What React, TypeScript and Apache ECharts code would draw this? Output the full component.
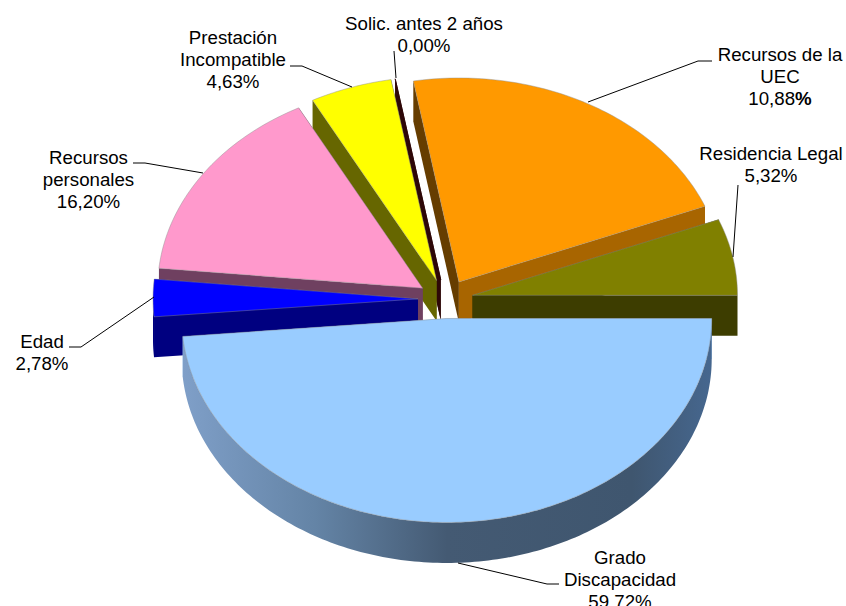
import React, { useEffect, useRef } from "react";
import * as echarts from "echarts";

// Chart order, counter-clockwise from 3 o'clock
const categories = ["Residencia Legal", "Recursos de la UEC", "Solic. antes 2 años", "Prestación Incompatible", "Recursos personales", "Edad", "Grado Discapacidad"];
const printedPercents = ["5,32%", "10,88%", "0,00%", "4,63%", "16,20%", "2,78%", "59,72%"];
// Shares of the circle as the slices are actually drawn in the picture
const drawnShares = [6.05, 21.7, 0, 5.0, 15.7, 2.95, 48.6];

// Painter's order (back to front)
const drawOrder = [2, 1, 3, 4, 0, 5, 6];

const topColors = ["#808000", "#FF9900", "#2e0808", "#FFFF00", "#FF99CC", "#0000FF", "#99CCFF"];
const startWallColors = ["#3d3d00", "#a86500", "#2e0808", "#666600", "#6f4060", "#000080", "#99CCFF"];
const endWallColors = ["#3d3d00", "#663d00", "#2e0808", "#666600", "#6f4060", "#000080", "#99CCFF"];

const CX = 445.5, CY = 299, RX = 265, RY = 204, DEPTH = 40.5, EX = 27.5, EY = 19.5;
const RAD = Math.PI / 180;

const edges: number[] = [0];
drawnShares.forEach((s, i) => edges.push(edges[i] + (s / 100) * 360));

function renderSlice(_params: any, api: any) {
  const idx = api.value(1) as number;
  const share = api.value(0) as number;
  const a0 = edges[idx];
  const a1 = a0 + (share / 100) * 360;
  const mid = ((a0 + a1) / 2) * RAD;
  const ax = CX + EX * Math.cos(mid);
  const ay = CY - EY * Math.sin(mid);
  const pt = (deg: number, dy = 0) => [ax + RX * Math.cos(deg * RAD), ay - RY * Math.sin(deg * RAD) + dy];
  const arc = (from: number, to: number, dy = 0) => {
    const n = Math.max(1, Math.ceil(Math.abs(to - from)));
    const out: number[][] = [];
    for (let i = 0; i <= n; i++) out.push(pt(from + ((to - from) * i) / n, dy));
    return out;
  };
  const children: any[] = [];
  const wall = (deg: number, fill: string) => {
    children.push({
      type: "polygon",
      shape: { points: [[ax, ay], pt(deg), pt(deg, DEPTH), [ax, ay + DEPTH]] },
      style: { fill },
    });
  };
  wall(a1, endWallColors[idx]);
  wall(a0, startWallColors[idx]);
  const rimFrom = Math.max(a0, 180);
  if (a1 > 180) {
    const fill =
      idx === 6
        ? new echarts.graphic.LinearGradient(0, 0, 1, 0, [
            { offset: 0, color: "#7f9fc8" },
            { offset: 0.25, color: "#6484a6" },
            { offset: 0.5, color: "#445a73" },
            { offset: 0.85, color: "#3f566f" },
            { offset: 1, color: "#46678f" },
          ])
        : startWallColors[idx];
    children.push({
      type: "polygon",
      shape: { points: [...arc(rimFrom, a1), ...arc(a1, rimFrom, DEPTH)] },
      style: { fill },
    });
  }
  children.push({
    type: "polygon",
    shape: { points: [[ax, ay], ...arc(a0, a1)] },
    style: { fill: topColors[idx], stroke: share > 0 ? "rgba(140,140,140,0.55)" : topColors[idx], lineWidth: 0.8 },
  });
  return { type: "group", children };
}

const FONT = '18.7px "Liberation Sans", Arial, sans-serif';

const labelLayout = [
  { i: 0, x: 771, y: 164, lines: ["Residencia Legal"] },
  { i: 1, x: 780, y: 76.5, lines: ["Recursos de la", "UEC"] },
  { i: 2, x: 424, y: 34, lines: ["Solic. antes 2 años"] },
  { i: 3, x: 233, y: 59.5, lines: ["Prestación", "Incompatible"] },
  { i: 4, x: 88.5, y: 179, lines: ["Recursos", "personales"] },
  { i: 5, x: 42, y: 352, lines: ["Edad"] },
  { i: 6, x: 620, y: 579, lines: ["Grado", "Discapacidad"] },
];

const leaders: number[][][] = [
  [[738, 185], [733, 257]],
  [[588, 102], [698, 61], [712, 61]],
  [[394, 51], [396, 78]],
  [[290, 66], [302, 66], [352, 87]],
  [[133, 163], [145, 163], [203, 173]],
  [[154, 297], [81, 347], [69, 347]],
  [[458, 563], [547, 584], [559, 584]],
];

function labelText(i: number, lines: string[]) {
  const pct = printedPercents[i];
  const last = i === 1 ? pct.replace("%", "{b|%}") : pct;
  return [...lines, last].join("\n");
}

export default function App() {
  const ref = useRef<HTMLDivElement>(null);
  useEffect(() => {
    document.body.style.margin = "0";
    const chart = echarts.init(ref.current!, null, { renderer: "svg" });
    chart.setOption({
      animation: false,
      backgroundColor: "#ffffff",
      series: [
        {
          type: "custom",
          coordinateSystem: "none",
          renderItem: renderSlice,
          silent: true,
          data: drawOrder.map((i) => ({ name: categories[i], value: [drawnShares[i], i] })),
        },
      ],
      graphic: [
        ...leaders.map((pts) => ({
          type: "polyline",
          silent: true,
          shape: { points: pts },
          style: { stroke: "#000000", lineWidth: 1, fill: "none" },
          z: 10,
        })),
        ...labelLayout.map((l) => ({
          type: "text",
          silent: true,
          x: l.x,
          y: l.y,
          z: 11,
          style: {
            text: labelText(l.i, l.lines),
            font: FONT,
            fill: "#000000",
            align: "center",
            verticalAlign: "middle",
            lineHeight: 22,
            rich: { b: { font: 'bold 18.7px "Liberation Sans", Arial, sans-serif', lineHeight: 22 } },
          },
        })),
      ],
    });
    return () => chart.dispose();
  }, []);
  return <div ref={ref} style={{ width: 846, height: 606, background: "#fff" }} />;
}
